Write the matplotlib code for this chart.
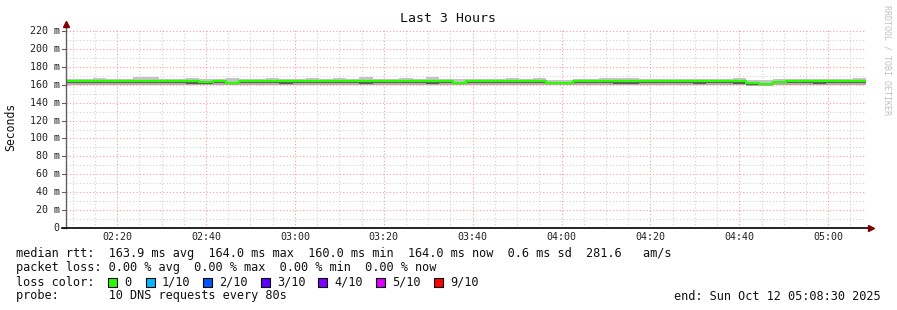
import matplotlib
matplotlib.use('Agg')
from matplotlib import pyplot as plt
from matplotlib.patches import Rectangle
import numpy as np

W, H = 897, 310

# time axis: minutes after midnight, 3 hours ending 05:08:30
t_start = 2 * 60 + 8.5
t_end = 5 * 60 + 8.5
bin_min = 3.0
tick_minutes = [140, 160, 180, 200, 220, 240, 260, 280, 300]
tick_labels = ['02:20', '02:40', '03:00', '03:20', '03:40', '04:00', '04:20', '04:40', '05:00']

# 60 bins of 3 minutes, values in ms
median = [164, 164, 164, 164, 164, 164, 164, 164, 164, 164,
          163.5, 164, 162.5, 164, 164, 164, 164, 164, 164, 164,
          164, 164, 164, 164, 164, 164, 164, 164, 164, 162.2,
          164, 164, 164, 164, 164, 164, 162.3, 162, 164, 164,
          164, 164, 164, 164, 164, 164, 164, 164, 164, 164,
          164.5, 161.5, 160.5, 163.5, 164, 164, 164, 164, 164, 164]
smoke_hi = [166.5, 166.5, 168, 166.5, 166.5, 168.5, 168.5, 166.5, 166.5, 167.5,
            166.5, 166.5, 167, 166.5, 166.5, 168, 166.5, 166.5, 168, 166.5,
            167.5, 166.5, 168.5, 166.5, 166.5, 167.5, 166.5, 169, 166.5, 166,
            166.5, 166.5, 166.5, 167.5, 166.5, 167.5, 165.5, 165.5, 166.5, 166.5,
            168, 168, 168, 166.5, 166.5, 166.5, 166.5, 166.5, 166.5, 166.5,
            167.5, 165.5, 165, 166.5, 166.5, 166.5, 166.5, 166.5, 166.5, 168]
smoke_mid = [161.5, 161.5, 162, 161.5, 161.5, 161.5, 161.5, 161.5, 162, 161,
             161, 161.5, 160.5, 161.5, 161.5, 161.5, 161, 161.5, 161.5, 161.5,
             161.5, 161.5, 161, 161.5, 161.5, 161.5, 161.5, 161, 161.5, 160.5,
             161.5, 161.5, 162, 161.5, 161.5, 161.5, 160.5, 160.5, 161.5, 161.5,
             161.5, 161, 161, 161.5, 161.5, 161.5, 161.5, 161, 161.5, 161.5,
             161, 160, 159.5, 161.5, 161.5, 161.5, 161, 161.5, 161.5, 161.5]
smoke_lo = [160, 159.8, 160, 160, 160, 159.8, 160, 160, 160, 159.5,
            159.5, 160, 159.5, 160, 160, 160, 159.5, 160, 160, 160,
            160, 160, 159.5, 160, 160, 160, 160, 159.5, 160, 159.5,
            160, 160, 160, 160, 160, 160, 159.5, 159.5, 160, 160,
            160, 159.5, 159.5, 160, 160, 160, 160, 159.5, 160, 160,
            159.5, 159, 158.8, 160, 160, 160, 159.5, 160, 160, 160]

loss_labels = ['0', '1/10', '2/10', '3/10', '4/10', '5/10', '9/10']
loss_colors = ['#26ff00', '#00b8ff', '#0059ff', '#5e00ff', '#7e00ff', '#dd00ff', '#ff0000']

mono = 'DejaVu Sans Mono'

fig = plt.figure(figsize=(W / 100, H / 100), dpi=100)
fig.patch.set_facecolor('white')

x0, x1, y0, y1 = 66, 866, 228, 28
ax = fig.add_axes([x0 / W, 1 - y0 / H, (x1 - x0) / W, (y0 - y1) / H])
ax.set_xlim(t_start, t_end)
ax.set_ylim(0, 223.4)
for s in ax.spines.values():
    s.set_visible(False)
ax.set_xticks([])
ax.set_yticks([])

# grid
for m in np.arange(t_start - 3.5, t_end, 5):
    c = '#ff9999' if m % 20 == 0 else '#d0d0d0'
    ax.axvline(m, color=c, lw=0.8, ls=(0, (1, 2)), zorder=1)
for v in range(10, 230, 10):
    c = '#ff9999' if v % 20 == 0 else '#d0d0d0'
    ax.axhline(v, color=c, lw=0.8, ls=(0, (1, 2)), zorder=1)

# smoke + median
edges = t_start + bin_min * np.arange(len(median) + 1)
hi = np.append(smoke_hi, smoke_hi[-1])
mid = np.append(smoke_mid, smoke_mid[-1])
lo = np.append(smoke_lo, smoke_lo[-1])
med = np.append(median, median[-1])
ax.fill_between(edges, med, hi, step='post', color='#c4c4c4', lw=0, zorder=2)
ax.fill_between(edges, mid, med, step='post', color='#5a5a5a', lw=0, zorder=2)
ax.fill_between(edges, lo, mid, step='post', color='#b8a8a8', lw=0, zorder=2)
ax.step(edges, med, where='post', color='#26ff00', lw=1.6, zorder=3)

# axes lines and arrows
ax.plot([t_start, t_start], [0, 226], color='#606060', lw=1, clip_on=False, zorder=4)
ax.plot([t_start - 1, t_end + 0.5], [0, 0], color='black', lw=1.2, clip_on=False, zorder=4)
ax.plot([t_start], [227.5], marker='^', ms=4, color='#7f0000', clip_on=False, zorder=5)
ax.plot([t_end + 1.1], [0], marker='>', ms=4, color='#7f0000', clip_on=False, zorder=5)
for v in range(0, 230, 20):
    ax.plot([t_start - 0.9, t_start], [v, v], color='#606060', lw=0.8, clip_on=False)

# tick labels
for v in range(0, 230, 20):
    lab = '0' if v == 0 else '%d m' % v
    ax.text(t_start - 1.4, v, lab, ha='right', va='center', family=mono, fontsize=7.2, color='#222222')
for m, lab in zip(tick_minutes, tick_labels):
    ax.text(m, -5, lab, ha='center', va='top', family=mono, fontsize=7.2, color='#222222')


def ftext(px, py, s, **kw):
    kw.setdefault('family', mono)
    kw.setdefault('fontsize', 8.6)
    kw.setdefault('color', '#111111')
    kw.setdefault('va', 'center')
    fig.text(px / W, 1 - py / H, s, **kw)


ftext(448, 19, 'Last 3 Hours', ha='center', fontsize=9.5)
ftext(11, 127, 'Seconds', ha='center', rotation=90, fontsize=8.3)
ftext(887, 5, 'RRDTOOL / TOBI OETIKER', ha='center', va='top', rotation=270,
      fontsize=6, color='#c0c0c0')

ftext(16, 254, 'median rtt:  163.9 ms avg  164.0 ms max  160.0 ms min  164.0 ms now  0.6 ms sd  281.6   am/s')
ftext(16, 268, 'packet loss: 0.00 % avg  0.00 % max  0.00 % min  0.00 % now')
ftext(16, 282, 'loss color:')
ftext(16, 296, 'probe:       10 DNS requests every 80s')
ftext(881, 296, 'end: Sun Oct 12 05:08:30 2025', ha='right')

sq_x = [108, 146, 203, 261, 318, 376, 434]
for px, lab, col in zip(sq_x, loss_labels, loss_colors):
    fig.patches.append(Rectangle((px / W, 1 - 287 / H), 9 / W, 9 / H, transform=fig.transFigure,
                                 facecolor=col, edgecolor='black', lw=0.8))
    ftext(px + 16, 282, lab)

fig.savefig('out.png', dpi=100)
